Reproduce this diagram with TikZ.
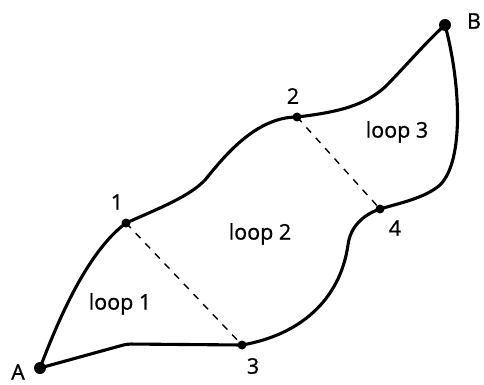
\documentclass[tikz,border=0pt]{standalone}
\usepackage{fontspec}
\newfontfamily\lblfont[FakeBold=0.9]{Open Sans}
\begin{document}
\begin{tikzpicture}[x=1pt,y=-1pt,
  curve/.style={line width=3.1pt, line cap=round, line join=round},
  bridge/.style={line width=1.4pt, dash pattern=on 7pt off 7pt},
  dot/.style={circle, fill=black, inner sep=0pt, minimum size=9pt},
  bigdot/.style={circle, fill=black, inner sep=0pt, minimum size=12pt},
  lbl/.style={font=\lblfont\fontsize{21.5}{24}\selectfont, inner sep=0pt}]
\useasboundingbox (0,0) rectangle (484,385);
% points
\node[bigdot] (A) at (40,368) {};
\node[bigdot] (B) at (445,25) {};
\node[dot] (n1) at (126,223) {};
\node[dot] (n2) at (297,117) {};
\node[dot] (n3) at (242,345) {};
\node[dot] (n4) at (380,209) {};
\coordinate (k1) at (205,180);
\coordinate (k2) at (385,87);
\coordinate (k3) at (440,185);
\coordinate (k4) at (348,245);
\coordinate (k5) at (127,344);
% outer curves
\draw[curve] (A.center) .. controls (62,310) and (90,250) .. (n1.center);
\draw[curve] (n1.center) .. controls (160,208) and (190,196) .. (k1)
   .. controls (223,158) and (255,117) .. (n2.center);
\draw[curve] (n2.center) .. controls (340,112) and (365,105) .. (k2)
   .. controls (405,67) and (425,43) .. (B.center);
\draw[curve] (B.center) .. controls (460,80) and (465,160) .. (k3)
   .. controls (425,198) and (400,203) .. (n4.center);
\draw[curve] (n4.center) .. controls (362,215) and (350,228) .. (k4)
   .. controls (340,300) and (300,335) .. (n3.center);
\draw[curve, rounded corners=4pt] (n3.center) -- (k5) -- (A.center);
% bridges
\draw[bridge] (n1.center) -- (n3.center);
\draw[bridge] (n2.center) -- (n4.center);
% labels
\node[lbl] (lA) at (18,372) {A};
\node[lbl] (lB) at (474,21) {B};
\node[lbl] (l1) at (117,202) {1};
\node[lbl] (l2) at (293,96) {2};
\node[lbl] (l3) at (253,366) {3};
\node[lbl] (l4) at (395,228) {4};
\node[lbl] (loop1) at (120,304) {loop 1};
\node[lbl] (loop2) at (260,234) {loop 2};
\node[lbl] (loop3) at (397,132) {loop 3};
\end{tikzpicture}
\end{document}
